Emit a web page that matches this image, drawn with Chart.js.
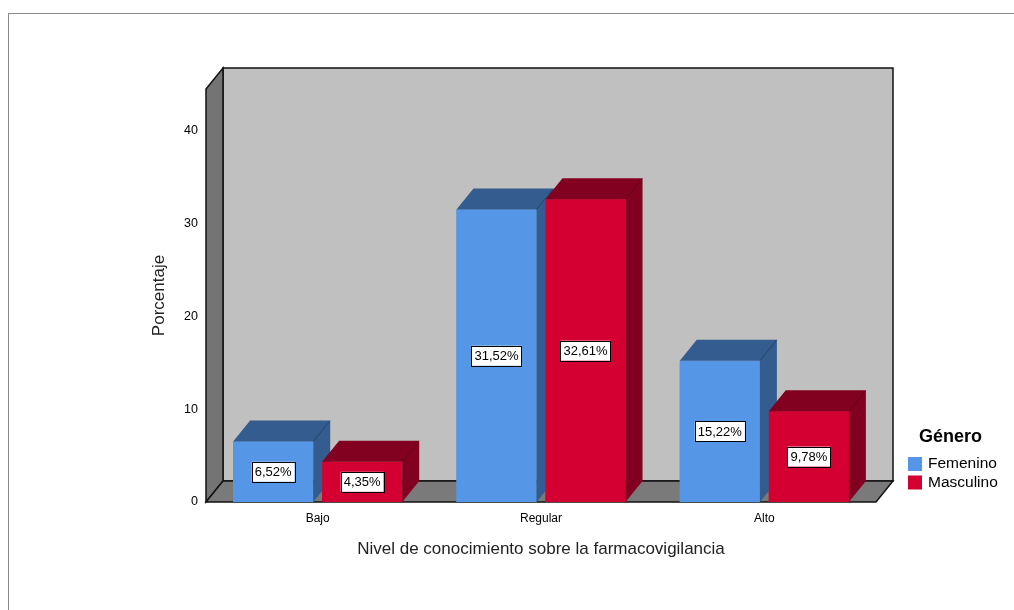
<!DOCTYPE html>
<html>
	<head>
		<meta charset="utf-8">
		<style>
			body {
				margin: 0;
				background: #ffffff;
			}
			#wrap {
				position: relative;
				width: 1014px;
				height: 610px;
			}
			#frame {
				position: absolute;
				left: 8px;
				top: 13px;
				right: 0;
				bottom: 0;
				border-top: 1px solid #8a8a8a;
				border-left: 1px solid #8a8a8a;
				pointer-events: none;
			}
		</style>
		<title>Nivel de conocimiento</title>
	</head>
	<body>
		<div id="wrap">
			<canvas id="canvas1" width="1014" height="610"></canvas>
			<div id="frame"></div>
		</div>
		<script src="https://cdn.jsdelivr.net/npm/chart.js@4/dist/chart.umd.min.js"></script>
		<script>
			var categories = ['Bajo', 'Regular', 'Alto'];
			var femenino = [6.52, 31.52, 15.22];
			var masculino = [4.35, 32.61, 9.78];
			var yTicks = [0, 10, 20, 30, 40];
			var legendTitle = 'Género';
			var xTitle = 'Nivel de conocimiento sobre la farmacovigilancia';
			var yTitle = 'Porcentaje';

			var FONT = "'Liberation Sans', Arial, sans-serif";
			var DX = 17, DY = -21;
			var frontColors = ['#5596e6', '#d50032'];
			var darkColors = ['#345c8e', '#820020'];

			function fmt(v) {
				return v.toFixed(2).replace('.', ',') + '%';
			}

			// back wall, left wall and floor
			var wallsPlugin = {
				id: 'walls',
				beforeDatasetsDraw: function (chart) {
					var c = chart.ctx, a = chart.chartArea;
					c.save();
					c.lineWidth = 1.5;
					c.strokeStyle = '#111';
					c.fillStyle = '#c0c0c0';
					c.fillRect(a.left + DX, a.top + DY, a.right - a.left, a.bottom - a.top);
					c.strokeRect(a.left + DX, a.top + DY, a.right - a.left, a.bottom - a.top);

					c.fillStyle = '#747474';
					c.beginPath();
					c.moveTo(a.left, a.top);
					c.lineTo(a.left + DX, a.top + DY);
					c.lineTo(a.left + DX, a.bottom + DY);
					c.lineTo(a.left, a.bottom);
					c.closePath();
					c.fill();
					c.stroke();

					c.fillStyle = '#7a7a7a';
					c.beginPath();
					c.moveTo(a.left, a.bottom);
					c.lineTo(a.left + DX, a.bottom + DY);
					c.lineTo(a.right + DX, a.bottom + DY);
					c.lineTo(a.right, a.bottom);
					c.closePath();
					c.fill();
					c.stroke();
					c.restore();
				}
			};

			// 3d faces, value labels and legend
			var barsPlugin = {
				id: 'bars3d',
				afterDatasetsDraw: function (chart) {
					var c = chart.ctx;
					c.save();
					for (var i = 0; i < categories.length; i++) {
						for (var d = 0; d < chart.data.datasets.length; d++) {
							var b = chart.getDatasetMeta(d).data[i];
							var l = b.x - b.width / 2, r = b.x + b.width / 2;
							c.fillStyle = frontColors[d];
							c.fillRect(l, b.y, r - l, b.base - b.y);
							c.fillStyle = darkColors[d];
							c.beginPath();
							c.moveTo(l, b.y);
							c.lineTo(l + DX, b.y + DY);
							c.lineTo(r + DX, b.y + DY);
							c.lineTo(r + DX, b.base + DY);
							c.lineTo(r, b.base);
							c.lineTo(r, b.y);
							c.closePath();
							c.fill();
							c.strokeStyle = 'rgba(0,0,0,0.25)';
							c.lineWidth = 1;
							c.beginPath();
							c.moveTo(r, b.y);
							c.lineTo(r + DX, b.y + DY);
							c.stroke();
						}
					}
					c.font = '13px ' + FONT;
					c.textAlign = 'center';
					c.textBaseline = 'middle';
					for (var d = 0; d < chart.data.datasets.length; d++) {
						var meta = chart.getDatasetMeta(d);
						var vals = chart.data.datasets[d].data;
						for (var i = 0; i < vals.length; i++) {
							var b = meta.data[i];
							var txt = fmt(vals[i]);
							var w = c.measureText(txt).width + 6;
							var cy = (b.y + b.base) / 2;
							c.fillStyle = '#fff';
							c.fillRect(b.x - w / 2, cy - 10, w, 20);
							c.strokeStyle = '#000';
							c.lineWidth = 1;
							c.strokeRect(Math.round(b.x - w / 2) + 0.5, Math.round(cy - 10) + 0.5, Math.round(w), 20);
							c.fillStyle = '#000';
							c.fillText(txt, b.x, cy + 1);
						}
					}

					// legend
					c.textAlign = 'left';
					c.font = 'bold 18px ' + FONT;
					c.fillStyle = '#000';
					c.fillText(legendTitle, 919, 437);
					c.font = '15.5px ' + FONT;
					for (var d = 0; d < chart.data.datasets.length; d++) {
						var ds = chart.data.datasets[d];
						c.fillStyle = ds.backgroundColor;
						c.fillRect(908, 457 + d * 18.5, 14, 14);
						c.fillStyle = '#000';
						c.fillText(ds.label, 928, 464 + d * 18.5);
					}
					c.restore();
				}
			};

			var ctx1 = document.getElementById('canvas1').getContext('2d');
			var Chart1 = new Chart(ctx1, {
				type: 'bar',
				data: {
					labels: categories,
					datasets: [
						{ label: 'Femenino', data: femenino, backgroundColor: frontColors[0] },
						{ label: 'Masculino', data: masculino, backgroundColor: frontColors[1] }
					]
				},
				options: {
					responsive: false,
					animation: false,
					categoryPercentage: 0.797,
					barPercentage: 0.9,
					layout: { padding: { left: 145, top: 89, right: 138, bottom: 48 } },
					plugins: {
						legend: { display: false },
						tooltip: { enabled: false }
					},
					scales: {
						x: {
							grid: { display: false, drawTicks: false },
							border: { display: false },
							ticks: { padding: 9, color: '#000', font: { family: FONT, size: 12 } },
							title: { display: true, text: xTitle, color: '#222', padding: { top: 0, bottom: 2 }, font: { family: FONT, size: 17 } },
							afterFit: function (s) { s.height = 60; }
						},
						y: {
							min: 0,
							max: 44.5,
							grid: { display: false, drawTicks: false },
							border: { display: false },
							afterBuildTicks: function (s) {
								s.ticks = yTicks.map(function (v) { return { value: v }; });
							},
							ticks: { padding: 8, color: '#000', font: { family: FONT, size: 12.5 } },
							title: { display: true, text: yTitle, color: '#222', padding: { top: 4, bottom: 0 }, font: { family: FONT, size: 17 } },
							afterFit: function (s) { s.width = 61; }
						}
					}
				},
				plugins: [wallsPlugin, barsPlugin]
			});
		</script>
	</body>
</html>
